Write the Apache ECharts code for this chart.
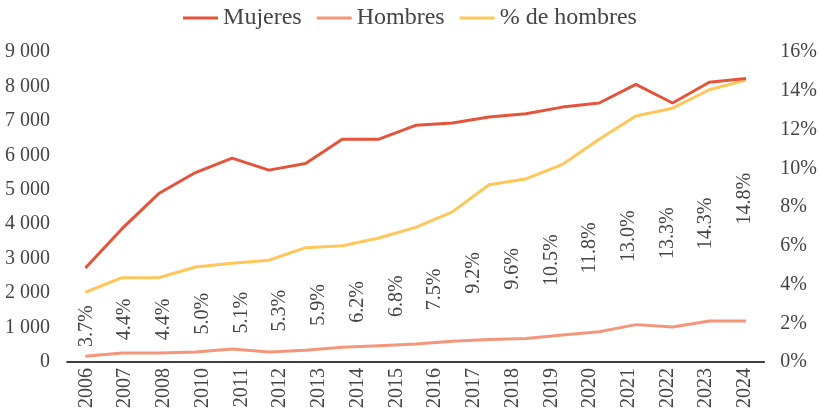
<!DOCTYPE html>
<html>
<head>
<meta charset="utf-8">
<script src="https://cdn.jsdelivr.net/npm/echarts@6/dist/echarts.min.js"></script>
<style>
  html, body { margin: 0; padding: 0; background: #fff; }
  #chart { width: 820px; height: 414px; }
</style>
</head>
<body>
<div id="chart"></div>
<script>
// etiquetas del eje (sin 2009)
var axisYears = ["2006", "2007", "2008", "2010", "2011", "2012", "2013", "2014", "2015",
  "2016", "2017", "2018", "2019", "2020", "2021", "2022", "2023", "2024"];
// las líneas tienen un punto más
var lineYears = ["2006", "2007", "2008", "2009", "2010", "2011", "2012", "2013", "2014", "2015",
  "2016", "2017", "2018", "2019", "2020", "2021", "2022", "2023", "2024"];

var mujeres = [2730, 3870, 4890, 5500, 5920, 5570, 5760, 6470, 6470, 6870,
  6940, 7110, 7210, 7400, 7520, 8060, 7520, 8120, 8230];
var hombres = [170, 260, 260, 290, 380, 290, 340, 430, 475, 520,
  600, 650, 680, 785, 880, 1085, 1015, 1190, 1190];
var pctHombres = [3.6, 4.35, 4.35, 4.9, 5.1, 5.25, 5.9, 6.0, 6.4, 6.95,
  7.75, 9.15, 9.45, 10.2, 11.5, 12.7, 13.1, 14.05, 14.55];
// valores de las etiquetas
var pctLabels = [3.7, 4.4, 4.4, 5.0, 5.1, 5.3, 5.9, 6.2, 6.8, 7.5,
  9.2, 9.6, 10.5, 11.8, 13.0, 13.3, 14.3, 14.8];

var font = "Liberation Serif";
var textColor = "#454545";

// la última etiqueta está un poco más arriba en el original
// (el offset va en el sistema girado de la etiqueta)
var labelData = pctLabels.map(function (v, i) {
  if (i === pctLabels.length - 1) {
    return { value: v, label: { offset: [20, 0] } };
  }
  return v;
});

var myChart = echarts.init(document.getElementById("chart"));
myChart.setOption({
  animation: false,
  legend: {
    top: 1,
    left: "center",
    data: ["Mujeres", "Hombres", "% de hombres"],
    icon: "rect",
    itemWidth: 35,
    itemHeight: 3,
    itemGap: 15,
    textStyle: { fontFamily: font, fontSize: 24, color: textColor },
  },
  grid: { left: 67, right: 53, top: 52, bottom: 52 },
  xAxis: [
    {
      type: "category",
      data: axisYears,
      boundaryGap: true,
      axisLine: { lineStyle: { color: "#000", width: 1.5 } },
      axisTick: { show: false },
      axisLabel: {
        rotate: 90,
        margin: 6,
        interval: 0,
        fontFamily: font,
        fontSize: 20,
        color: textColor,
      },
    },
    {
      type: "category",
      data: lineYears,
      boundaryGap: true,
      show: false,
    },
  ],
  yAxis: [
    {
      type: "value",
      min: 0,
      max: 9000,
      interval: 1000,
      splitLine: { show: false },
      axisLine: { show: false },
      axisTick: { show: false },
      axisLabel: {
        margin: 17,
        fontFamily: font,
        fontSize: 20,
        color: textColor,
        formatter: function (v) {
          return String(v).replace(/\B(?=(\d{3})+(?!\d))/g, " ");
        },
      },
    },
    {
      type: "value",
      min: 0,
      max: 16,
      interval: 2,
      splitLine: { show: false },
      axisLine: { show: false },
      axisTick: { show: false },
      axisLabel: {
        margin: 16,
        fontFamily: font,
        fontSize: 20,
        color: textColor,
        formatter: "{value}%",
      },
    },
  ],
  series: [
    {
      name: "etiquetas",
      type: "bar",
      xAxisIndex: 0,
      yAxisIndex: 1,
      data: labelData,
      barWidth: 10,
      itemStyle: { color: "rgba(0,0,0,0)" },
      silent: true,
      label: {
        show: true,
        position: "inside",
        rotate: 90,
        fontFamily: font,
        fontSize: 20,
        color: textColor,
        formatter: function (p) {
          return p.value.toFixed(1) + "%";
        },
      },
      z: 1,
    },
    {
      name: "Mujeres",
      type: "line",
      xAxisIndex: 1,
      yAxisIndex: 0,
      data: mujeres,
      symbol: "none",
      lineStyle: { color: "#E5543A", width: 3 },
      itemStyle: { color: "#E5543A" },
      z: 4,
    },
    {
      name: "Hombres",
      type: "line",
      xAxisIndex: 1,
      yAxisIndex: 0,
      data: hombres,
      symbol: "none",
      lineStyle: { color: "#F4967A", width: 3 },
      itemStyle: { color: "#F4967A" },
      z: 3,
    },
    {
      name: "% de hombres",
      type: "line",
      xAxisIndex: 1,
      yAxisIndex: 1,
      data: pctHombres,
      symbol: "none",
      lineStyle: { color: "#FFC65A", width: 3 },
      itemStyle: { color: "#FFC65A" },
      z: 3,
    },
  ],
});
</script>
</body>
</html>
